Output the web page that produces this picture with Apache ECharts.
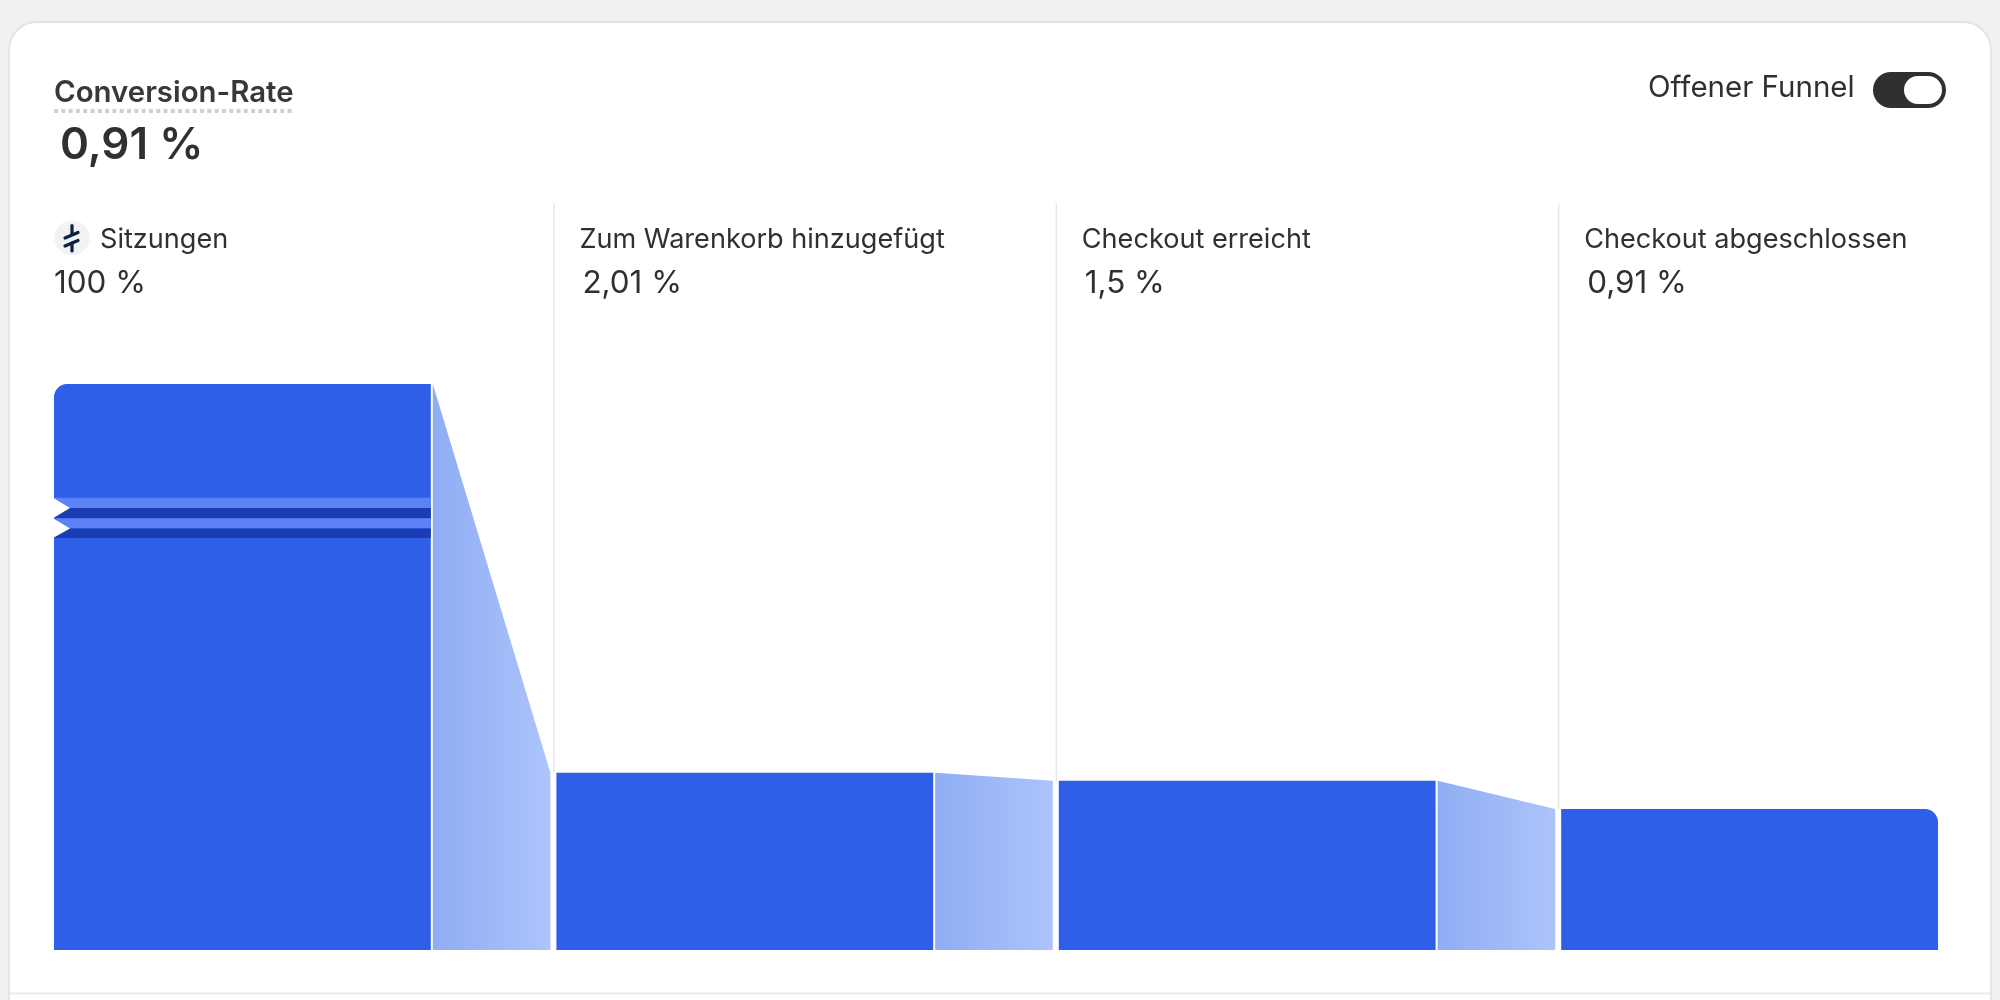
<!DOCTYPE html>
<html><head><meta charset="utf-8">
<style>html,body{margin:0;padding:0;background:#f1f1f1}#c{width:2000px;height:1000px}</style>
<script src="https://cdn.jsdelivr.net/npm/echarts@6/dist/echarts.min.js"></script>
</head><body><div id="c"></div>
<script>
const titleText = 'Conversion-Rate';
const titleValue = '0,91 %';
const toggleText = 'Offener Funnel';
const categories = ['Sitzungen', 'Zum Warenkorb hinzugefügt', 'Checkout erreicht', 'Checkout abgeschlossen'];
const percentLabels = ['100 %', '2,01 %', '1,5 %', '0,91 %'];
// Drawn bar heights (the first column sits on a broken axis)
const barHeights = [100, 31.3, 29.9, 24.9];
// Break stripes on the first column: [from, to, kind]
const breakBands = [[79.9, 78.1, 'light'], [78.1, 76.3, 'dark'], [76.3, 74.5, 'light'], [74.5, 72.8, 'dark']];

const BAR = '#2f5fe8', LIGHT = '#5c82f6', DARK = '#1a3db5', INK = '#303030', RULE = '#e8e8e8';
const FONT = 'Inter, "Noto Sans", sans-serif';
const chart = echarts.init(document.getElementById('c'), null, {renderer: 'canvas'});

function line(x1, y1, x2, y2, w, c) {
  return {type: 'line', shape: {x1, y1, x2, y2}, style: {stroke: c, lineWidth: w, lineCap: 'round'}, z: 3};
}
chart.setOption({
  animation: false,
  backgroundColor: '#f1f1f1',
  grid: {left: 54, right: 62, top: 203, bottom: 50},
  xAxis: {type: 'value', min: 0, max: 3.75, show: false},
  yAxis: {type: 'value', min: 0, max: 132, show: false},
  graphic: [
    {type: 'rect', z: 0, shape: {x: 9, y: 22, width: 1982, height: 1040, r: 28}, style: {fill: '#fff', stroke: '#e4e4e4', lineWidth: 2}},
    {type: 'line', z: 1, shape: {x1: 10, y1: 993.5, x2: 1990, y2: 993.5}, style: {stroke: '#ececec', lineWidth: 2}},
    {type: 'text', z: 3, x: 54, y: 93, style: {text: titleText, font: '600 29.4px ' + FONT, fill: '#383838', textVerticalAlign: 'middle'}},
    {type: 'line', z: 3, shape: {x1: 54, y1: 111, x2: 294, y2: 111}, style: {stroke: '#cfcfcf', lineWidth: 4, lineDash: [4, 3.3]}},
    {type: 'text', z: 3, x: 60, y: 146, style: {text: titleValue, font: '600 44px ' + FONT, fill: INK, textVerticalAlign: 'middle'}},
    {type: 'text', z: 3, x: 1648, y: 88, style: {text: toggleText, font: '400 29.5px ' + FONT, fill: INK, textVerticalAlign: 'middle'}},
    {type: 'rect', z: 3, shape: {x: 1873, y: 72, width: 73, height: 36, r: 18}, style: {fill: INK}},
    {type: 'rect', z: 4, shape: {x: 1904, y: 76, width: 38, height: 28, r: 14}, style: {fill: '#fff'}},
    {type: 'circle', z: 3, shape: {cx: 72, cy: 238, r: 17.5}, style: {fill: '#f1f2f4'}},
    line(65, 238, 78, 232.5, 3.2, '#0d1f3f'),
    line(65, 246, 78, 240.5, 3.2, '#0d1f3f'),
    line(72, 225.5, 72, 234, 3.2, '#0d1f3f'),
    line(72, 243, 72, 251, 3.2, '#0d1f3f')
  ],
  series: [
    { // dividers and column headers
      type: 'custom', coordinateSystem: 'cartesian2d', silent: true, clip: false, z: 2,
      data: categories.map((c, i) => [i]),
      encode: {x: 0},
      renderItem(params, api) {
        const i = api.value(0), x = api.coord([i, 0])[0], top = api.coord([0, 132])[1];
        const kids = [
          {type: 'text', style: {x: x + (i === 0 ? 46 : 23), y: 240, text: categories[i], font: '400 27.1px ' + FONT, fill: INK, verticalAlign: 'middle'}},
          {type: 'text', style: {x: x + (i === 0 ? 0 : 26), y: 284, text: percentLabels[i], font: '400 31.4px ' + FONT, fill: INK, verticalAlign: 'middle'}}
        ];
        if (i > 0) kids.push({type: 'line', shape: {x1: x - 2.5, y1: top, x2: x - 2.5, y2: api.coord([0, barHeights[i]])[1]}, style: {stroke: RULE, lineWidth: 1.5}});
        return {type: 'group', children: kids};
      }
    },
    { // connectors
      type: 'custom', coordinateSystem: 'cartesian2d', silent: true, clip: false, z: 2,
      data: barHeights.slice(0, -1).map((h, i) => [i, h, barHeights[i + 1]]),
      encode: {x: 0, y: 1},
      renderItem(params, api) {
        const i = api.value(0);
        const a = api.coord([i + 0.75, api.value(1)]), b = api.coord([i + 1, api.value(2)]), z = api.coord([i, 0])[1];
        return {type: 'polygon', shape: {points: [[a[0] + 2, a[1]], [b[0] - 6, b[1]], [b[0] - 6, z], [a[0] + 2, z]]},
          style: {fill: new echarts.graphic.LinearGradient(0, 0, 1, 0, [{offset: 0, color: '#8fadf4'}, {offset: 1, color: '#adc4fb'}])}};
      }
    },
    { // bars
      type: 'custom', coordinateSystem: 'cartesian2d', silent: true, clip: false, z: 3,
      data: barHeights.map((h, i) => [i, h]),
      encode: {x: 0, y: 1},
      renderItem(params, api) {
        const i = api.value(0);
        const p = api.coord([i, api.value(1)]), q = api.coord([i + 0.75, 0]);
        const r = i === 0 ? [13, 0, 0, 0] : i === barHeights.length - 1 ? [0, 13, 0, 0] : 0;
        return {type: 'rect', shape: {x: p[0], y: p[1], width: q[0] - p[0], height: q[1] - p[1], r}, style: {fill: BAR}};
      }
    },
    { // axis-break stripes and notches on the first bar
      type: 'custom', coordinateSystem: 'cartesian2d', silent: true, clip: false, z: 4,
      data: breakBands.map((b, i) => [i, b[0], b[1]]),
      encode: {y: 1},
      renderItem(params, api) {
        const k = api.value(0);
        const p = api.coord([0, api.value(1)]), q = api.coord([0.75, api.value(2)]);
        const kids = [{type: 'rect', shape: {x: p[0], y: p[1], width: q[0] - p[0], height: q[1] - p[1]}, style: {fill: breakBands[k][2] === 'light' ? LIGHT : DARK}}];
        if (k % 2 === 1) {
          const t = api.coord([0, breakBands[k - 1][0]])[1];
          kids.push({type: 'polygon', z2: 5, shape: {points: [[p[0] - 1, t], [p[0] + 16, p[1]], [p[0] - 1, q[1]]]}, style: {fill: '#fff'}});
        }
        return {type: 'group', children: kids};
      }
    }
  ]
});
</script></body></html>
